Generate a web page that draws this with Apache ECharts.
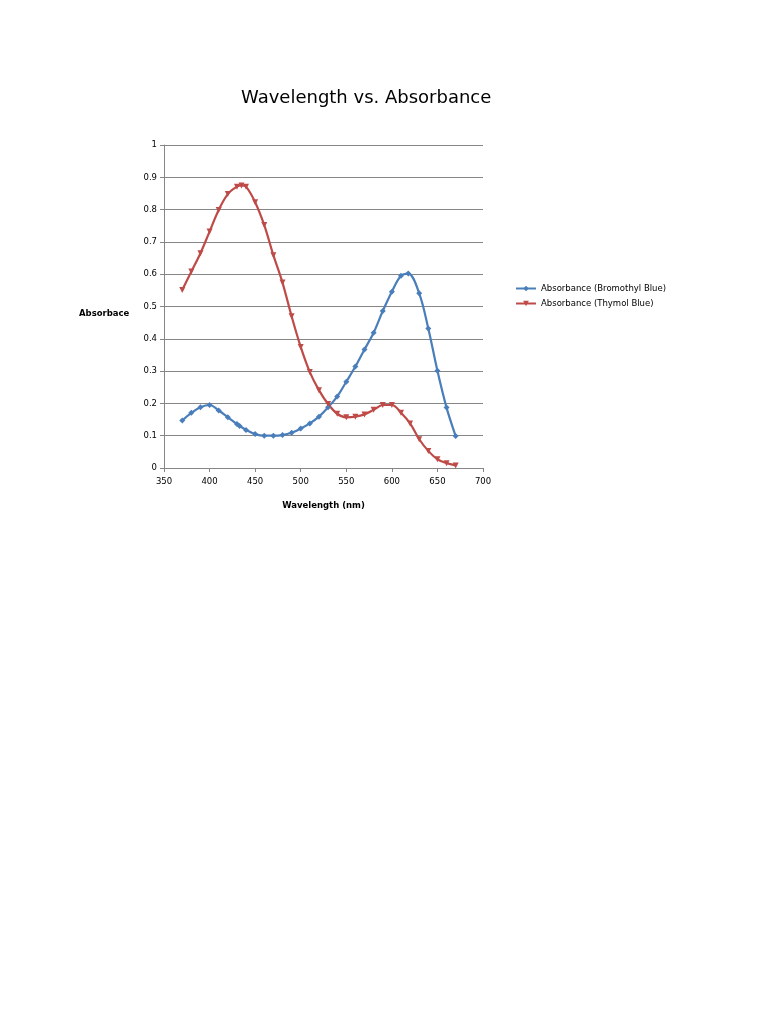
<!DOCTYPE html>
<html><head><meta charset="utf-8">
<script src="https://cdn.jsdelivr.net/npm/echarts@6/dist/echarts.min.js"></script>
<style>html,body{margin:0;padding:0;background:#fff}#c{width:768px;height:1024px}</style>
</head><body><div id="c"></div>
<script>
const bromoWavelength = [370,380,390,400,410,420,430,433,440,450,460,470,480,490,500,510,520,530,540,550,560,570,580,590,600,610,618,630,640,650,660,670];
const bromoAbs = [0.147,0.171,0.188,0.195,0.178,0.157,0.136,0.130,0.118,0.105,0.100,0.100,0.102,0.109,0.122,0.138,0.159,0.188,0.221,0.267,0.314,0.367,0.419,0.486,0.546,0.595,0.602,0.541,0.432,0.301,0.187,0.099];
const thymolWavelength = [370,380,390,400,410,420,430,435,440,450,460,470,480,490,500,510,520,530,540,550,560,570,580,590,600,610,620,630,640,650,660,670];
const thymolAbs = [0.551,0.608,0.665,0.732,0.799,0.848,0.871,0.875,0.871,0.823,0.752,0.659,0.574,0.470,0.375,0.297,0.241,0.198,0.168,0.157,0.159,0.166,0.180,0.195,0.195,0.171,0.138,0.089,0.053,0.027,0.015,0.008];
const xTicks = {min:350, max:700, interval:50};
const yTicks = {min:0, max:1, interval:0.1};

const chart = echarts.init(document.getElementById('c'));
const pair = (xs, ys) => xs.map((x,i)=>[x, ys[i]]);
const font = 'DejaVu Sans';
chart.setOption({
  animation:false,
  title:{text:'Wavelength vs. Absorbance', left:241, top:89, padding:0,
    textStyle:{fontFamily:font, fontSize:18, fontWeight:'normal', color:'#000'}},
  grid:{left:164, top:145, width:319, height:323},
  legend:{orient:'vertical', left:515, top:284, padding:0, itemWidth:20, itemHeight:7, itemGap:6,
    textStyle:{fontFamily:font, fontSize:8.5, color:'#000'},
    data:['Absorbance (Bromothyl Blue)','Absorbance (Thymol Blue)']},
  graphic:[{type:'text', left:79, top:309,
    style:{text:'Absorbace', fontFamily:font, fontSize:8.5, fontWeight:'bold', fill:'#000'}}],
  xAxis:{type:'value', min:xTicks.min, max:xTicks.max, interval:xTicks.interval,
    name:'Wavelength (nm)', nameLocation:'middle', nameGap:33,
    nameTextStyle:{fontFamily:font, fontSize:8.5, fontWeight:'bold', color:'#000'},
    axisLine:{show:true, lineStyle:{color:'#868686'}},
    axisTick:{show:true, length:4, lineStyle:{color:'#868686'}},
    axisLabel:{fontFamily:font, fontSize:8.5, color:'#000', margin:9},
    splitLine:{show:false}},
  yAxis:{type:'value', min:yTicks.min, max:yTicks.max, interval:yTicks.interval,
    axisLine:{show:true, lineStyle:{color:'#868686'}},
    axisTick:{show:true, length:4, lineStyle:{color:'#868686'}},
    axisLabel:{fontFamily:font, fontSize:8.5, color:'#000', margin:7},
    splitLine:{show:true, lineStyle:{color:'#868686', width:1}}},
  series:[
    {name:'Absorbance (Bromothyl Blue)', type:'line', smooth:0.35, data:pair(bromoWavelength,bromoAbs),
      symbol:'diamond', symbolSize:6, itemStyle:{color:'#4a7ebb'}, lineStyle:{color:'#4a7ebb', width:2.2}},
    {name:'Absorbance (Thymol Blue)', type:'line', smooth:0.35, data:pair(thymolWavelength,thymolAbs),
      symbol:'triangle', symbolRotate:180, symbolSize:6, itemStyle:{color:'#be4b48'}, lineStyle:{color:'#be4b48', width:2.2}}
  ]
});
</script></body></html>
